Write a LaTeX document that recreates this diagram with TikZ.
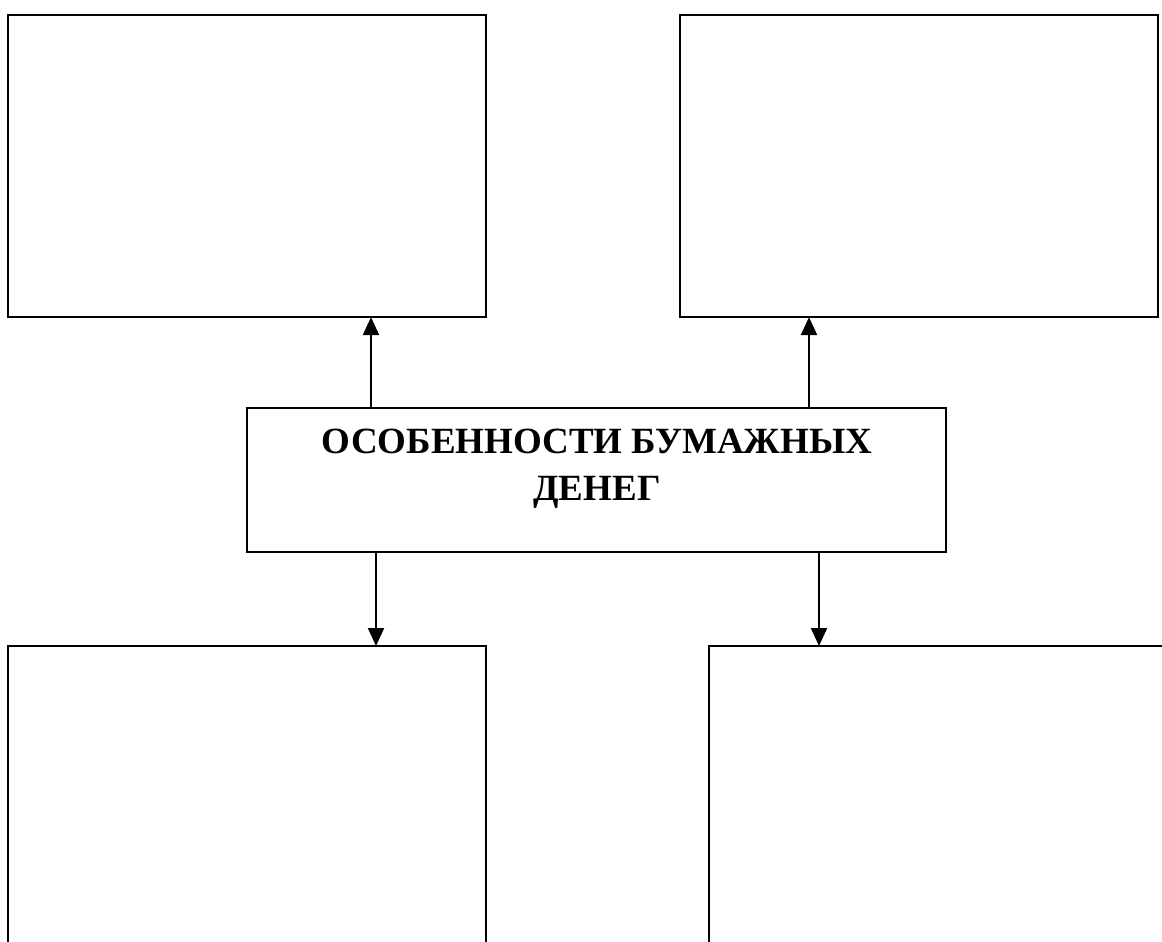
\documentclass[tikz,border=0pt]{standalone}
\usepackage{fontspec}
\setmainfont{Liberation Serif}
\usetikzlibrary{arrows.meta}
\begin{document}
\begin{tikzpicture}[x=0.025cm,y=-0.025cm]
      \tikzstyle{every node}+=[inner sep=0pt,outer sep=0pt]
      \tikzstyle{blank}=[draw=black,line width=1.5pt,minimum width=11.95cm,minimum height=7.55cm]
      \tikzstyle{arr}=[draw=black,line width=1.5pt,-{Triangle[length=0.45cm,width=0.4cm]}]
      \useasboundingbox (0,0) rectangle (1162,941);
      \clip (0,0) rectangle (1162,941);
      % four empty boxes
      \node [blank,anchor=north west] (tl) at (8,15) {};
      \node [blank,anchor=north west] (tr) at (680,15) {};
      \node [blank,anchor=north west,minimum height=10cm] (bl) at (8,646) {};
      \node [blank,anchor=north west,minimum width=12.5cm,minimum height=10cm] (br) at (709,646) {};
      % centre box
      \node [draw=black,line width=1.5pt,minimum width=17.475cm,minimum height=3.6cm] (osob) at (596.5,480) {};
      \node [font=\fontsize{26.3}{33.4}\selectfont\bfseries,align=center] (osobtext) at (597,469)
            {ОСОБЕННОСТИ БУМАЖНЫХ\\ДЕНЕГ};
      % arrows
      \draw [arr] (osob.north -| 371,0) -- (tl.south -| 371,0);
      \draw [arr] (osob.north -| 809,0) -- (tr.south -| 809,0);
      \draw [arr] (osob.south -| 376,0) -- (bl.north -| 376,0);
      \draw [arr] (osob.south -| 819,0) -- (br.north -| 819,0);
\end{tikzpicture}
\end{document}
